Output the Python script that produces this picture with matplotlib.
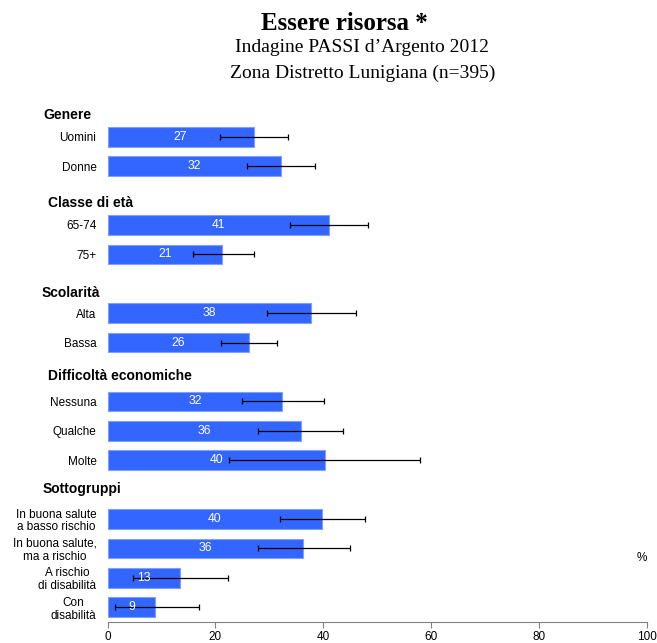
import matplotlib
matplotlib.use("Agg")
import matplotlib.pyplot as plt
import matplotlib.transforms as mtransforms
import numpy as np

# ---- data ----
categories = ["Uomini", "Donne", "65-74", "75+", "Alta", "Bassa",
              "Nessuna", "Qualche", "Molte",
              "In buona salute\na basso rischio", "In buona salute,\nma a rischio",
              "A rischio\ndi disabilità", "Con\ndisabilità"]
slots = [0, 1, 3, 4, 6, 7, 9, 10, 11, 13, 14, 15, 16]
values = [27.1, 32.2, 41.0, 21.3, 37.8, 26.2, 32.4, 35.8, 40.4, 39.8, 36.3, 13.4, 8.9]
ci_low = [20.8, 25.9, 33.9, 15.8, 29.5, 21.0, 24.9, 28.0, 22.6, 31.9, 27.9, 4.8, 1.4]
ci_high = [33.4, 38.5, 48.4, 27.2, 46.1, 31.4, 40.1, 43.7, 58.0, 47.7, 44.9, 22.4, 16.9]
groups = ["Genere", "Classe di età", "Scolarità", "Difficoltà economiche", "Sottogruppi"]
group_y = [-0.74, 2.27, 5.31, 8.14, 11.98]
group_x = [43, 48, 42, 48, 43]  # pixel x of header start
xticks = [0, 20, 40, 60, 80, 100]

W, H = 657, 643
fig = plt.figure(figsize=(W / 100, H / 100), dpi=100)
ax = fig.add_axes([107.5 / W, 1 - 622 / H, (646.7 - 107.5) / W, (622 - 92.6) / H])

sans = "Liberation Sans"
serif = "Liberation Serif"

vals = np.array(values)
lo = vals - np.array(ci_low)
hi = np.array(ci_high) - vals
ax.barh(slots, vals, height=0.67, color="#3366FF", edgecolor="#7FA0FF", linewidth=0.8, zorder=2)
ax.errorbar(vals, slots, xerr=[lo, hi], fmt="none", ecolor="black", elinewidth=0.9,
            capsize=2.3, capthick=0.9, zorder=3)

for y, v in zip(slots, values):
    ax.text(v / 2, y, f"{v:.0f}", color="white", ha="center", va="center",
            fontsize=8.8, family=sans, zorder=4)

ax.set_xlim(0, 100)
ax.set_ylim(16.5, -1.5)
ax.set_yticks(slots)
ax.set_yticklabels(categories, fontsize=8.5, family=sans, multialignment="center",
                   linespacing=1.1)
ax.tick_params(axis="y", length=0, pad=8)
ax.set_xticks(xticks)
ax.set_xticklabels([str(t) for t in xticks], fontsize=8.5, family=sans)
ax.tick_params(axis="x", length=4, color="#808080", width=0.8, pad=2.5)
for s in ["top", "right", "left"]:
    ax.spines[s].set_visible(False)
ax.spines["bottom"].set_color("#808080")
ax.spines["bottom"].set_linewidth(0.8)

blend = mtransforms.blended_transform_factory(fig.transFigure, ax.transData)
for g, gy, gx in zip(groups, group_y, group_x):
    ax.text(gx / W, gy, g, transform=blend,
            ha="left", va="center", fontsize=10, fontweight="bold", family=sans)

fig.text(641.7 / W, 1 - 558 / H, "%", ha="center", va="center", fontsize=8.5, family=sans)

fig.text(0.5 * (260 + 429) / W, 1 - 23 / H, "Essere risorsa *", ha="center", va="center",
         fontsize=18, fontweight="bold", family=serif)
fig.text(0.5 * (235.7 + 489) / W, 1 - 48 / H, "Indagine PASSI d\u2019Argento 2012", ha="center",
         va="center", fontsize=14, family=serif)
fig.text(0.5 * (235.7 + 489) / W, 1 - 73 / H, "Zona Distretto Lunigiana (n=395)", ha="center",
         va="center", fontsize=14, family=serif)

fig.savefig("out.png", dpi=100)
